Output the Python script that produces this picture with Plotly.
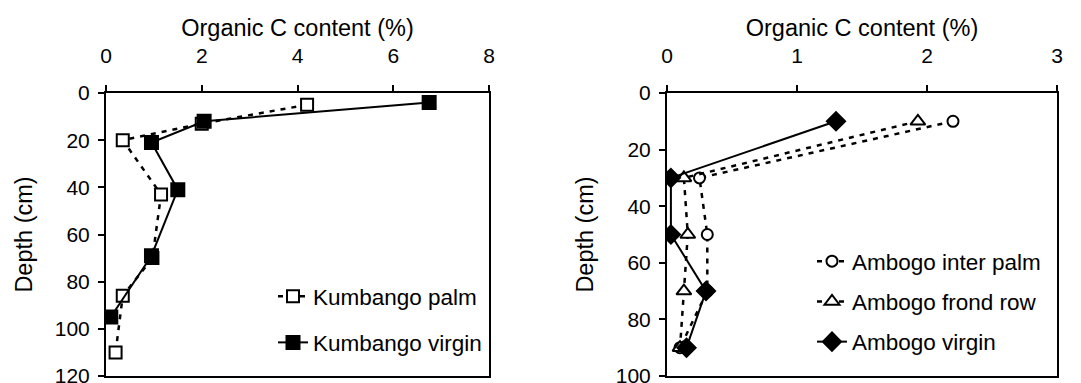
import plotly.graph_objects as go

# ---- data ----
kp_c = [4.2, 2.0, 0.35, 1.15, 0.97, 0.35, 0.2]
kp_d = [5, 13, 20, 43, 70, 86, 110]
kv_c = [6.75, 2.05, 0.95, 1.5, 0.95, 0.1]
kv_d = [4, 12, 21, 41, 69, 95]

aip_c = [2.2, 0.25, 0.31, 0.31, 0.1]
aip_d = [10, 30, 50, 70, 90]
afr_c = [1.93, 0.13, 0.16, 0.13, 0.1]
afr_d = [10, 30, 50, 70, 90]
av_c = [1.3, 0.03, 0.03, 0.3, 0.15]
av_d = [10, 30, 50, 70, 90]

FONT = "Liberation Sans, Arial, sans-serif"
DOT = "5px,6px"
W, H = 1081, 383

fig = go.Figure()

def add(x, y, name, xa, ya, leg, dash, symbol, size, fill):
    fig.add_trace(go.Scatter(
        x=x, y=y, name=name, xaxis=xa, yaxis=ya, legend=leg, legendgroup=name,
        mode="lines+markers",
        line=dict(color="black", width=2.5 if dash != "solid" else 2, dash=dash),
        marker=dict(symbol=symbol, size=size, color=fill,
                    line=dict(color="black", width=2)),
    ))

add(kp_c, kp_d, "Kumbango palm", "x", "y", "legend", DOT, "square", 12, "white")
add(kv_c, kv_d, "Kumbango virgin", "x", "y", "legend", "solid", "square", 13, "black")
add(aip_c, aip_d, "Ambogo inter palm", "x2", "y2", "legend2", DOT, "circle", 11, "white")
add(afr_c, afr_d, "Ambogo frond row", "x2", "y2", "legend2", DOT, "triangle-up", 13, "white")
add(av_c, av_d, "Ambogo virgin", "x2", "y2", "legend2", "solid", "diamond", 14, "black")

ax_common = dict(showline=True, linecolor="black", linewidth=2, mirror=True,
                 ticks="outside", ticklen=6, tickwidth=1.5, tickcolor="black",
                 showgrid=False, zeroline=False, automargin=False,
                 ticklabeloverflow="allow",
                 tickfont=dict(family=FONT, size=21, color="black"))

xdom1 = [106 / W, 489 / W]
xdom2 = [667 / W, 1057 / W]
ydom = [1 - 376 / H, 1 - 93 / H]

xtitle = dict(text="Organic C content (%)", font=dict(family=FONT, size=23.5, color="black"), standoff=0)
ytitle = dict(text="Depth (cm)", font=dict(family=FONT, size=23.5, color="black"), standoff=16)

fig.update_layout(
    width=W, height=H, margin=dict(l=0, r=0, t=0, b=0),
    paper_bgcolor="white", plot_bgcolor="white",
    font=dict(family=FONT, color="black"),
    xaxis=dict(domain=xdom1, anchor="y", side="top", range=[0, 8], dtick=2,
               title=xtitle, ticklabelstandoff=14, **ax_common),
    yaxis=dict(domain=ydom, anchor="x", range=[120, 0], dtick=20,
               title=ytitle, ticklabelstandoff=4, **ax_common),
    xaxis2=dict(domain=xdom2, anchor="y2", side="top", range=[0, 3], dtick=1,
                title=xtitle, ticklabelstandoff=14, **ax_common),
    yaxis2=dict(domain=ydom, anchor="x2", range=[100, 0], dtick=20,
                title=ytitle, ticklabelstandoff=4, **ax_common),
    legend=dict(x=(316 - 43) / W, y=1 - 275 / H, xanchor="left", yanchor="top",
                bgcolor="rgba(0,0,0,0)", traceorder="grouped", tracegroupgap=14,
                font=dict(family=FONT, size=22.5, color="black")),
    legend2=dict(x=(855 - 43) / W, y=1 - 240 / H, xanchor="left", yanchor="top",
                 bgcolor="rgba(0,0,0,0)", traceorder="grouped", tracegroupgap=8,
                 font=dict(family=FONT, size=22.5, color="black")),
    showlegend=True,
)

fig.write_html("out.html")
